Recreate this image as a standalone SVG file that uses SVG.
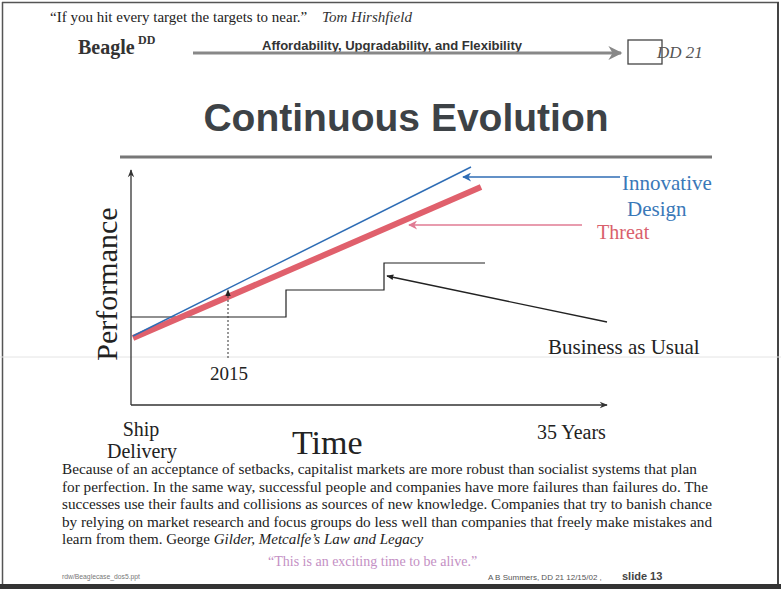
<svg xmlns="http://www.w3.org/2000/svg" width="781" height="589" viewBox="0 0 781 589">
<style>
.serif{font-family:"Liberation Serif","Times New Roman",serif}
.sans{font-family:"Liberation Sans",Arial,sans-serif}
.para{font-family:"Liberation Serif","Times New Roman",serif;font-size:15px;fill:#222}
.lbl{font-family:"Liberation Serif","Times New Roman",serif;fill:#222}
</style>
<defs>
<marker id="ablk" viewBox="0 0 10 10" refX="9" refY="5" markerWidth="7" markerHeight="7" orient="auto" markerUnits="userSpaceOnUse"><path d="M0,1 L10,5 L0,9 z" fill="#222"/></marker>
<marker id="aax" viewBox="0 0 10 10" refX="9" refY="5" markerWidth="12" markerHeight="8" orient="auto" markerUnits="userSpaceOnUse"><path d="M0,1 L10,5 L0,9 L3,5 z" fill="#333"/></marker>
<marker id="ablue" viewBox="0 0 10 10" refX="9" refY="5" markerWidth="11" markerHeight="9" orient="auto" markerUnits="userSpaceOnUse"><path d="M0,0 L10,5 L0,10 L3,5 z" fill="#2f6db5"/></marker>
<marker id="apink" viewBox="0 0 10 10" refX="9" refY="5" markerWidth="11" markerHeight="9" orient="auto" markerUnits="userSpaceOnUse"><path d="M0,0 L10,5 L0,10 L3,5 z" fill="#e07b93"/></marker>
<marker id="agray" viewBox="0 0 10 10" refX="9" refY="5" markerWidth="26" markerHeight="14" orient="auto" markerUnits="userSpaceOnUse"><path d="M0,0 L10,5 L0,10 L3,5 z" fill="#888"/></marker>
</defs>
<rect width="781" height="589" fill="#fff"/>
<!-- frame -->
<g id="frame" fill="none">
<line x1="2" y1="2.5" x2="779" y2="2.5" stroke="#555" stroke-width="1.5"/>
<line x1="2.5" y1="2" x2="2.5" y2="586" stroke="#555" stroke-width="1.5"/>
<line x1="778" y1="2" x2="778" y2="586" stroke="#444" stroke-width="2"/>
<line x1="0" y1="586.5" x2="781" y2="586.5" stroke="#333" stroke-width="5"/>
<line x1="0" y1="357" x2="781" y2="357" stroke="#e4e4e4" stroke-width="1"/>
</g>
<!-- header -->
<g id="header">
<text class="serif" x="50" y="22" font-size="15" fill="#222">“If you hit every target the targets to near.”</text>
<text class="serif" x="322" y="22" font-size="15" font-style="italic" fill="#333">Tom Hirshfield</text>
<text class="serif" x="78" y="54" font-size="20" font-weight="bold" fill="#333">Beagle</text>
<text class="serif" x="138" y="44" font-size="12" font-weight="bold" fill="#333">DD</text>
<text class="sans" x="262" y="49.5" font-size="13" font-weight="bold" fill="#333" textLength="260" lengthAdjust="spacingAndGlyphs">Affordability, Upgradability, and Flexibility</text>
<line x1="193" y1="53" x2="621" y2="53" stroke="#888" stroke-width="3" marker-end="url(#agray)"/>
<rect x="628" y="40" width="34" height="24" fill="none" stroke="#444" stroke-width="1.3"/>
<text class="serif" x="657" y="58" font-size="17" font-style="italic" fill="#555">DD 21</text>
</g>
<g id="title">
<text class="sans" x="406" y="131" font-size="39" font-weight="bold" fill="#3d4246" text-anchor="middle">Continuous Evolution</text>
<line x1="120" y1="157" x2="712" y2="157" stroke="#777" stroke-width="3"/>
</g>
<!-- chart -->
<g id="connectors" fill="none">
<line id="y-axis" x1="131" y1="405" x2="131" y2="170" stroke="#333" stroke-width="1.3" marker-end="url(#aax)"/>
<line id="x-axis" x1="131" y1="405" x2="607" y2="405" stroke="#333" stroke-width="1.3" marker-end="url(#aax)"/>
<polyline id="business" points="131,317 286,317 286,290 384,290 384,263 485,263" stroke="#222" stroke-width="1.2"/>
<line id="threat" x1="133" y1="338" x2="481" y2="187" stroke="#e0606c" stroke-width="6"/>
<line id="innovative" x1="133" y1="336" x2="471" y2="167" stroke="#2f6db5" stroke-width="1.5"/>
<line x1="228" y1="358" x2="228" y2="290" stroke="#333" stroke-width="1" stroke-dasharray="2,2" marker-end="url(#ablk)"/>
<line x1="620" y1="177" x2="463" y2="177" stroke="#2f6db5" stroke-width="1.3" marker-end="url(#ablue)"/>
<line x1="582" y1="225" x2="409" y2="225" stroke="#e07b93" stroke-width="1.3" marker-end="url(#apink)"/>
<line x1="607" y1="322" x2="387" y2="276" stroke="#222" stroke-width="1.3" marker-end="url(#ablk)"/>
</g>
<g id="labels">
<text class="serif" transform="translate(117,284) rotate(-90)" font-size="30" fill="#222" text-anchor="middle">Performance</text>
<text class="lbl" x="229" y="380" font-size="19" text-anchor="middle">2015</text>
<text class="lbl" x="622" y="190" font-size="21" style="fill:#3a78b8">Innovative</text>
<text class="lbl" x="627" y="216" font-size="21" style="fill:#3a78b8">Design</text>
<text class="lbl" x="597" y="239" font-size="20" style="fill:#d9606c">Threat</text>
<text class="lbl" x="548" y="354" font-size="21">Business as Usual</text>
<text class="lbl" x="141" y="436" font-size="20" text-anchor="middle">Ship</text>
<text class="lbl" x="142" y="458" font-size="20" text-anchor="middle">Delivery</text>
<text class="lbl" x="292" y="454" font-size="34">Time</text>
<text class="lbl" x="537" y="439" font-size="20">35 Years</text>
</g>
<g id="paragraph">
<text class="para" x="62" y="474" textLength="635" lengthAdjust="spacingAndGlyphs">Because of an acceptance of setbacks, capitalist markets are more robust than socialist systems that plan</text>
<text class="para" x="62" y="491.5" textLength="646" lengthAdjust="spacingAndGlyphs">for perfection. In the same way, successful people and companies have more failures than failures do. The</text>
<text class="para" x="62" y="509" textLength="650" lengthAdjust="spacingAndGlyphs">successes use their faults and collisions as sources of new knowledge. Companies that try to banish chance</text>
<text class="para" x="62" y="526.5" textLength="650" lengthAdjust="spacingAndGlyphs">by relying on market research and focus groups do less well than companies that freely make mistakes and</text>
<text class="para" x="62" y="544">learn from them. George <tspan font-style="italic">Gilder, Metcalfe’s Law and Legacy</tspan></text>
<text class="serif" x="268" y="566" font-size="14" fill="#c48fc4">“This is an exciting time to be alive.”</text>
<text class="sans" x="62" y="579" font-size="8" fill="#777" textLength="78" lengthAdjust="spacingAndGlyphs">rdw/Beaglecase_dos5.ppt</text>
<text class="sans" x="488" y="580" font-size="8" fill="#555">A B Summers, DD 21 12/15/02 ,</text>
<text class="sans" x="622" y="580" font-size="11" font-weight="bold" fill="#444">slide 13</text>
</g>
</svg>
